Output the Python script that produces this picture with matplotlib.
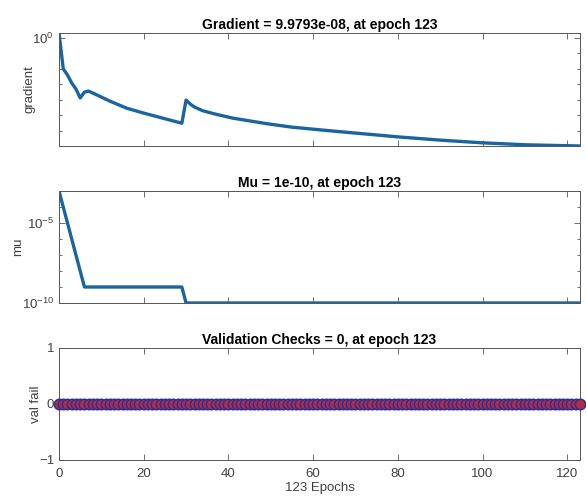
import matplotlib
matplotlib.use('Agg')
import matplotlib.pyplot as plt
from matplotlib.ticker import FixedLocator, NullFormatter, LogFormatterSciNotation

plt.rcParams['font.family'] = ['Liberation Sans', 'DejaVu Sans']
plt.rcParams['font.size'] = 9.5

# training state at the end of run
n_epochs = 123

grad_epochs = [0, 1, 2, 3, 4, 5, 6, 7, 9, 12, 16, 20, 24, 29, 30, 31, 32, 34, 37, 41, 49, 55, 65, 80, 90, 100, 110, 123]
grad_values = [2.1, 1.0e-2, 4.0e-3, 1.2e-3, 4.9e-4, 1.3e-4, 3.1e-4, 3.6e-4, 2.0e-4, 8.1e-5,
               2.8e-5, 1.35e-5, 6.9e-6, 3.0e-6, 9.4e-5, 5.2e-5, 3.3e-5, 1.9e-5, 1.15e-5, 6.4e-6,
               2.8e-6, 1.66e-6, 9.1e-7, 3.9e-7, 2.4e-7, 1.6e-7, 1.2e-7, 9.9793e-08]

mu_epochs = [0, 1, 2, 3, 4, 5, 6, 29, 30, 123]
mu_values = [1e-3, 1e-4, 1e-5, 1e-6, 1e-7, 1e-8, 1e-9, 1e-9, 1e-10, 1e-10]

val_epochs = list(range(0, n_epochs + 1))
val_fail = [0] * len(val_epochs)

x_ticks = [0, 20, 40, 60, 80, 100, 120]

line_color = '#1a65a0'
text_color = '#404040'


def style_axes(ax):
    ax.set_xlim(0, n_epochs)
    ax.xaxis.set_major_locator(FixedLocator(x_ticks))
    ax.tick_params(which='both', direction='in', top=True, right=True,
                   colors='#555555', labelcolor=text_color, width=0.6, labelsize=9.5)
    ax.tick_params(which='major', length=4)
    ax.tick_params(which='minor', length=2.2)
    ax.tick_params(axis='x', pad=6)
    for sp in ax.spines.values():
        sp.set_color('#555555')
        sp.set_linewidth(0.7)


fig = plt.figure(figsize=(5.86, 5.0), dpi=100)
ax1 = fig.add_axes([0.1007, 0.708, 0.889, 0.226])
ax2 = fig.add_axes([0.1007, 0.394, 0.889, 0.224])
ax3 = fig.add_axes([0.1007, 0.080, 0.889, 0.224])

# gradient
ax1.plot(grad_epochs, grad_values, color=line_color, linewidth=2.4)
ax1.set_yscale('log')
ax1.set_ylim(grad_values[-1], grad_values[0])
ax1.yaxis.set_major_locator(FixedLocator([1.0]))
ax1.yaxis.set_major_formatter(LogFormatterSciNotation())
ax1.yaxis.set_minor_locator(FixedLocator([10.0 ** k for k in range(-7, 0)]))
ax1.yaxis.set_minor_formatter(NullFormatter())
ax1.set_ylabel('gradient', color=text_color, labelpad=-2)
ax1.set_title('Gradient = 9.9793e-08, at epoch 123', fontweight='bold', fontsize=10, pad=3)
style_axes(ax1)
ax1.set_xticklabels([])

# mu
ax2.plot(mu_epochs, mu_values, color=line_color, linewidth=2.4)
ax2.set_yscale('log')
ax2.set_ylim(1e-10, 1e-3)
ax2.yaxis.set_major_locator(FixedLocator([1e-10, 1e-5]))
ax2.yaxis.set_major_formatter(LogFormatterSciNotation())
ax2.yaxis.set_minor_locator(FixedLocator([10.0 ** k for k in range(-10, -2)]))
ax2.yaxis.set_minor_formatter(NullFormatter())
ax2.set_ylabel('mu', color=text_color, labelpad=-2)
ax2.set_title('Mu = 1e-10, at epoch 123', fontweight='bold', fontsize=10, pad=3)
style_axes(ax2)
ax2.set_xticklabels([])

# validation checks
ax3.plot(val_epochs, val_fail, color='#2b3fae', linewidth=2.4, zorder=2)
ax3.plot(val_epochs, val_fail, linestyle='none', marker='o', markersize=7.5,
         markerfacecolor='#b32d3e', markeredgecolor='#2a2fa0', markeredgewidth=1.1,
         clip_on=False, zorder=3)
ax3.set_ylim(-1, 1)
ax3.set_yticks([-1, 0, 1])
ax3.set_ylabel('val fail', color=text_color, labelpad=-2)
ax3.set_title('Validation Checks = 0, at epoch 123', fontweight='bold', fontsize=10, pad=3)
ax3.set_xlabel('123 Epochs', color=text_color, labelpad=1)
style_axes(ax3)

fig.savefig('out.png', dpi=100)
plt.close(fig)
